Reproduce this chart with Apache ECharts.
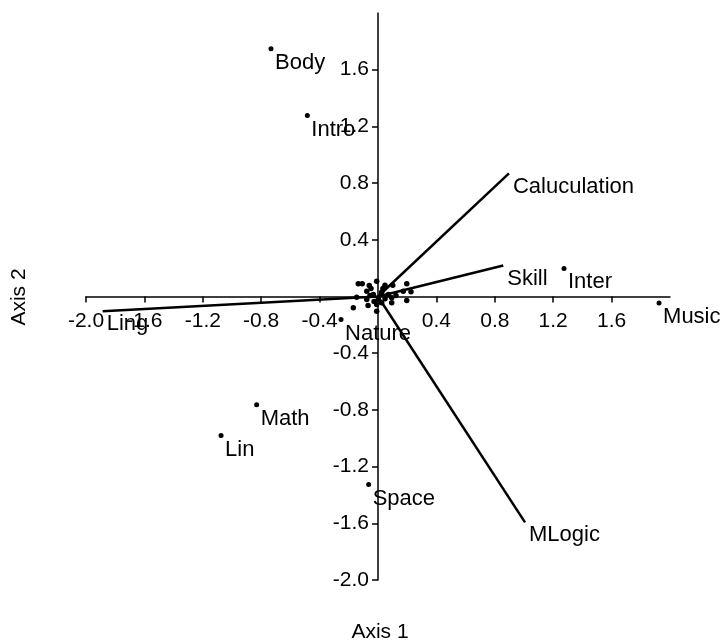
<!DOCTYPE html>
<html>
<head>
<meta charset="utf-8">
<script src="https://cdn.jsdelivr.net/npm/echarts@6/dist/echarts.min.js"></script>
<style>
  html, body { margin: 0; padding: 0; background: #fff; }
  #chart { width: 724px; height: 640px; }
</style>
</head>
<body>
<div id="chart"></div>
<script>
// Named case scores (Axis 1, Axis 2)
const caseNames = ['Body', 'Intro', 'Math', 'Lin', 'Space', 'Nature', 'Inter', 'Music'];
const caseAxis1 = [-0.733, -0.484, -0.831, -1.075, -0.064, -0.253, 1.274, 1.925];
const caseAxis2 = [1.748, 1.277, -0.764, -0.981, -1.327, -0.162, 0.198, -0.045];

// Unlabelled case scores packed around the origin
const clusterAxis1 = [-0.135, -0.108, -0.060, -0.009, 0.048, 0.101, 0.197, -0.077, -0.048, -0.032,
                      0.025, 0.071, 0.173, 0.226, -0.146, -0.077, 0.002, 0.048, 0.094, 0.197,
                      -0.169, -0.009, 0.025, 0.094, -0.009, -0.055, -0.027, -0.068, 0.034, 0.123];
const clusterAxis2 = [0.090, 0.090, 0.078, 0.108, 0.080, 0.080, 0.090, 0.037, 0.056, 0.014,
                      0.030, 0.014, 0.037, 0.033, -0.005, -0.021, -0.021, -0.016, -0.009, -0.028,
                      -0.080, -0.056, -0.044, -0.044, -0.104, 0.007, -0.035, -0.064, 0.056, 0.007];

// Variable vectors (end points, drawn from the origin)
const vectorNames = ['Caluculation', 'Skill', 'MLogic', 'Ling'];
const vectorAxis1 = [0.897, 0.858, 1.007, -1.886];
const vectorAxis2 = [0.868, 0.219, -1.593, -0.104];

// Tick positions shared by both axes
const tickValues = [-2.0, -1.6, -1.2, -0.8, -0.4, 0.4, 0.8, 1.2, 1.6];

const FONT = "'Liberation Sans', Arial, sans-serif";
const INK = '#000';
const TICK_SIZE = 21;
const NAME_SIZE = 22;

// Plot box: both axes run from -2 to 2 and cross at the origin
const GRID = { left: 86, top: 13, width: 584, height: 567 };
const AXIS_MIN = -2, AXIS_MAX = 2;

const chart = echarts.init(document.getElementById('chart'), null, { renderer: 'canvas' });

const caseData = caseNames.map((n, i) => ({ name: n, value: [caseAxis1[i], caseAxis2[i]] }));
const clusterData = clusterAxis1.map((x, i) => [x, clusterAxis2[i]]);
const vectorEnds = vectorNames.map((n, i) => ({ name: n, value: [vectorAxis1[i], vectorAxis2[i]] }));

// Shift each axis from the plot edge to the zero line of the other axis
const zeroFrac = (0 - AXIS_MIN) / (AXIS_MAX - AXIS_MIN);
const xAxisOffset = -GRID.height * zeroFrac;
const yAxisOffset = -GRID.width * zeroFrac;

function axisCommon(offset, labelMargin) {
  return {
    type: 'value',
    min: AXIS_MIN,
    max: AXIS_MAX,
    interval: 0.4,
    offset: offset,
    splitLine: { show: false },
    axisLine: { show: true, onZero: false, lineStyle: { color: INK, width: 1.5 } },
    axisTick: { show: true, length: 6, customValues: tickValues, lineStyle: { color: INK, width: 1.5 } },
    axisLabel: {
      customValues: tickValues,
      color: INK,
      fontFamily: FONT,
      fontSize: TICK_SIZE,
      margin: labelMargin,
      formatter: v => v.toFixed(1)
    }
  };
}

const vectorSeries = vectorEnds.map(v => ({
  type: 'line',
  data: [[0, 0], v.value],
  symbol: 'none',
  silent: true,
  lineStyle: { color: INK, width: 2.5 },
  z: 3
}));

const pointLabel = (distance, dy) => ({
  show: true,
  position: 'right',
  distance: distance,
  offset: [0, dy],
  formatter: p => p.name,
  color: INK,
  fontFamily: FONT,
  fontSize: NAME_SIZE
});

chart.setOption({
  animation: false,
  backgroundColor: '#fff',
  grid: GRID,
  xAxis: axisCommon(xAxisOffset, 14),
  yAxis: axisCommon(yAxisOffset, 9),
  graphic: [
    { type: 'text', x: 380, y: 632, style: { text: 'Axis 1', font: TICK_SIZE + 'px ' + FONT, fill: INK, align: 'center', verticalAlign: 'middle' } },
    { type: 'text', x: 19, y: 297, rotation: Math.PI / 2,
      style: { text: 'Axis 2', font: TICK_SIZE + 'px ' + FONT, fill: INK, align: 'center', verticalAlign: 'middle' } }
  ],
  series: [
    ...vectorSeries,
    {
      type: 'scatter',
      data: clusterData,
      symbol: 'circle',
      symbolSize: 5.5,
      itemStyle: { color: INK, opacity: 1 },
      silent: true,
      z: 4
    },
    {
      type: 'scatter',
      data: caseData,
      symbol: 'circle',
      symbolSize: 5,
      itemStyle: { color: INK, opacity: 1 },
      silent: true,
      z: 4,
      label: pointLabel(1.5, 14)
    },
    {
      type: 'scatter',
      data: vectorEnds,
      symbol: 'circle',
      symbolSize: 0,
      itemStyle: { color: INK, opacity: 1 },
      silent: true,
      z: 4,
      label: pointLabel(4, 13)
    }
  ]
});
</script>
</body>
</html>
